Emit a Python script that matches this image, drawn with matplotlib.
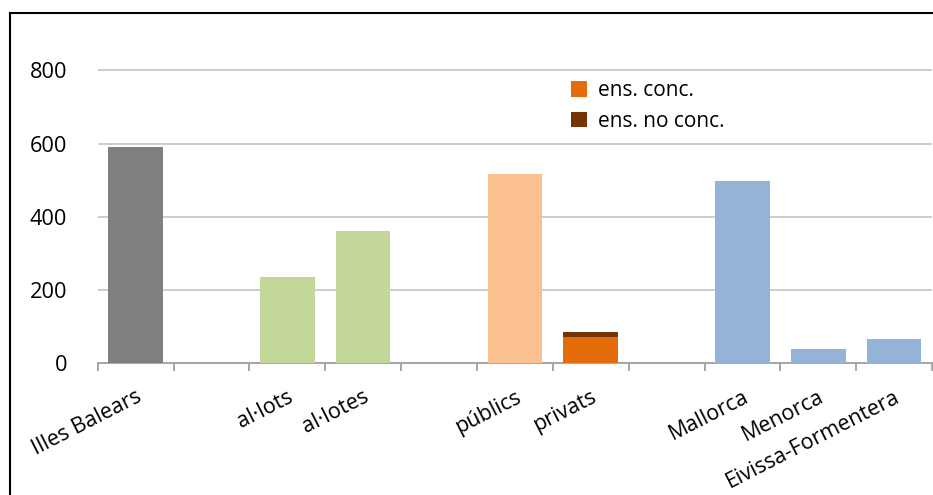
import matplotlib.pyplot as plt
from matplotlib.lines import Line2D
import numpy as np

# data
categories = ['Illes Balears', '', 'al·lots', 'al·lotes', '', 'públics', 'privats',
              '', 'Mallorca', 'Menorca', 'Eivissa-Formentera']
totals = [592, 0, 235, 360, 0, 518, 0, 0, 499, 38, 65]
conc = [0, 0, 0, 0, 0, 0, 71, 0, 0, 0, 0]
no_conc = [0, 0, 0, 0, 0, 0, 14, 0, 0, 0, 0]
bar_colors = ['#7f7f7f', 'none', '#c4d79b', '#c4d79b', 'none', '#fac090', 'none',
              'none', '#95b3d7', '#95b3d7', '#95b3d7']
legend_labels = ['ens. conc.', 'ens. no conc.']

plt.rcParams['font.family'] = ['Open Sans', 'DejaVu Sans']
plt.rcParams['font.size'] = 15

fig = plt.figure(figsize=(9.33, 4.95), dpi=100)
ax = fig.add_axes([0.1047, 0.2667, 0.8943, 0.65])

x = np.arange(len(categories))
w = 0.72
ax.bar(x, totals, width=w, color=bar_colors, zorder=3)
b1 = ax.bar(x, conc, width=w, color='#e46c0a', zorder=3)
b2 = ax.bar(x, no_conc, width=w, bottom=conc, color='#743506', zorder=3)

ax.set_xlim(-0.5, len(categories) - 0.5)
ax.set_ylim(0, 880)
ax.set_yticks([0, 200, 400, 600, 800])
ax.yaxis.grid(True, color='#c8c8c8', linewidth=1.3, zorder=0)
ax.tick_params(axis='y', length=0, pad=22, labelsize=15.7)

ax.set_xticks(x)
ax.set_xticklabels(categories, rotation=27, ha='right', rotation_mode='anchor')
ax.tick_params(axis='x', length=0, pad=17, labelsize=15.5)
ax.set_xticks(np.arange(len(categories) + 1) - 0.5, minor=True)
ax.tick_params(axis='x', which='minor', length=6, color='#a0a0a0', width=1.3)

for s in ['top', 'right', 'left']:
    ax.spines[s].set_visible(False)
ax.spines['bottom'].set_color('#a0a0a0')
ax.spines['bottom'].set_linewidth(1.3)

ax.legend([b1, b2], legend_labels, frameon=False, loc='upper left',
          bbox_to_anchor=(0.545, 0.937), handlelength=0.75, handleheight=0.75,
          handletextpad=0.55, labelspacing=0.45, fontsize=15)

# outer frame (cut off on right and bottom)
fig.add_artist(Line2D([0.0102, 0.0102], [0.0, 0.9737], color='black', linewidth=1.5))
fig.add_artist(Line2D([0.0102, 1.0], [0.9737, 0.9737], color='black', linewidth=1.5))

fig.savefig('out.png', dpi=100)
